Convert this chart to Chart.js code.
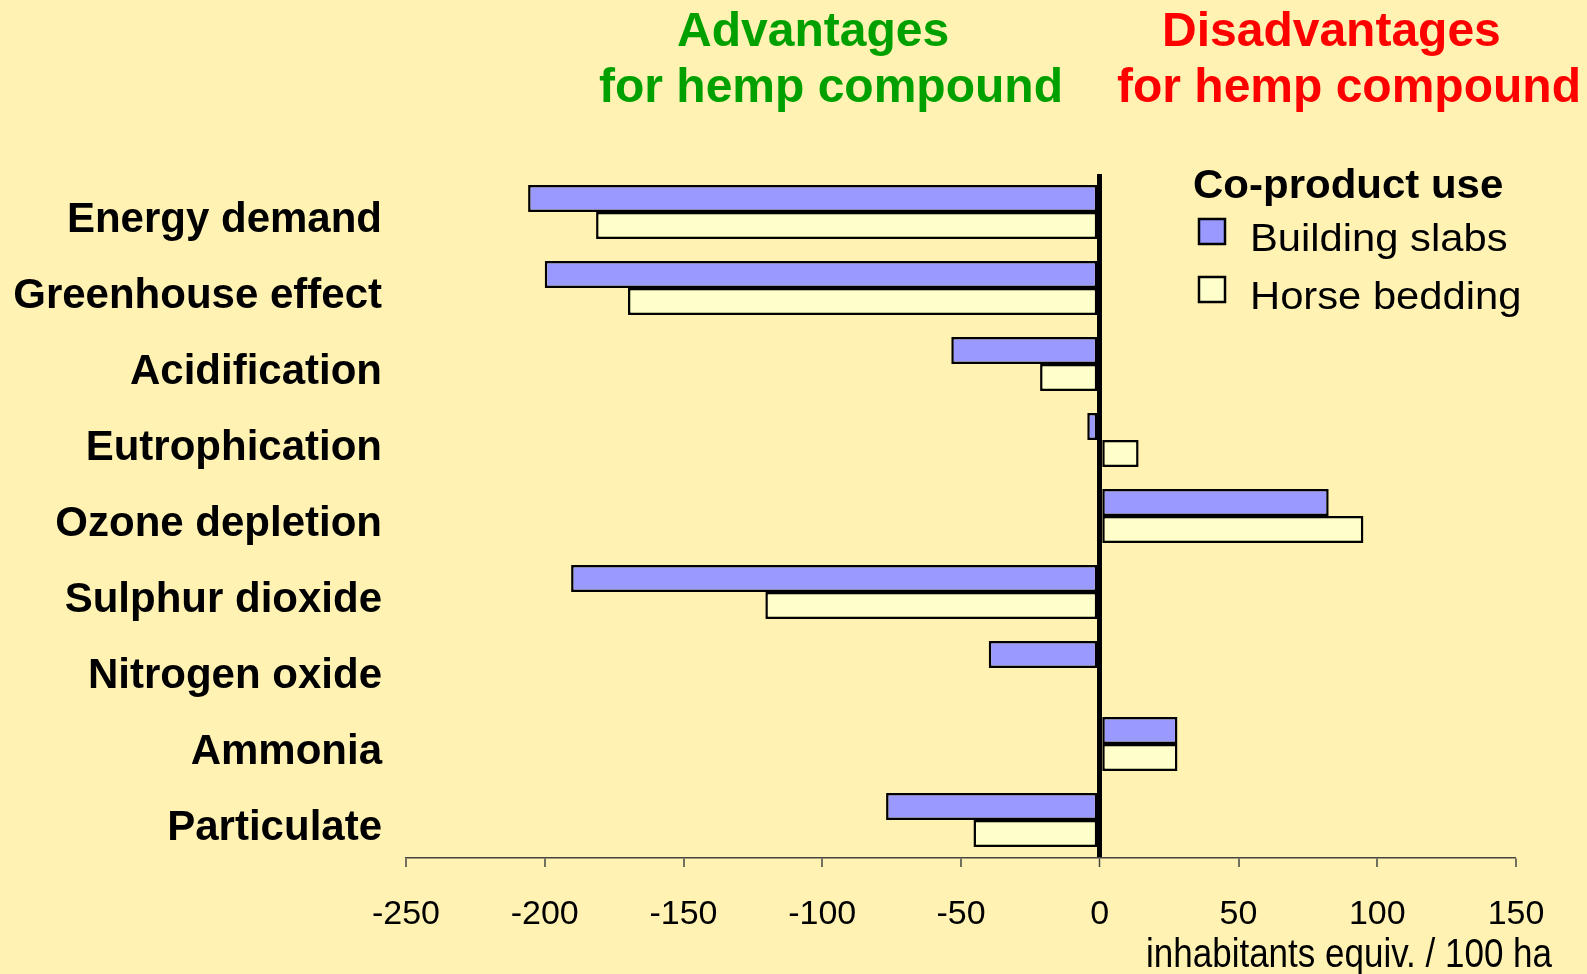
<!DOCTYPE html>
<html>
<head>
<meta charset="utf-8">
<script src="https://cdn.jsdelivr.net/npm/chart.js@4/dist/chart.umd.min.js"></script>
<style>
  html, body { margin: 0; padding: 0; background: #fff2b2; }
  canvas { display: block; }
</style>
</head>
<body>
<canvas id="grafico" width="1587" height="974"></canvas>
<script>
// categorías y valores
const categorias = ["Energy demand", "Greenhouse effect", "Acidification", "Eutrophication",
  "Ozone depletion", "Sulphur dioxide", "Nitrogen oxide", "Ammonia", "Particulate"];
const buildingSlabs = [-206, -200, -53.5, -4.5, 82.5, -190.5, -40, 28, -77];
const horseBedding = [-181.5, -170, -21.5, 14, 95, -120.5, null, 28, -45.5];
const ejeMin = -250;
const ejeMax = 150;
const ejePaso = 50;
const tituloEje = "inhabitants equiv. / 100 ha";
const tituloLeyenda = "Co-product use";

const FUENTE = "'Liberation Sans', Arial, sans-serif";

// texto con escala horizontal opcional
function texto(ctx, s, x, y, size, bold, color, sx) {
  ctx.save();
  ctx.font = (bold ? "bold " : "") + size + "px " + FUENTE;
  ctx.fillStyle = color;
  ctx.textAlign = "left";
  ctx.textBaseline = "alphabetic";
  ctx.translate(x, y);
  ctx.scale(sx || 1, 1);
  ctx.fillText(s, 0, 0);
  ctx.restore();
}

const fondo = {
  id: "fondo",
  beforeDraw(chart) {
    const ctx = chart.ctx;
    ctx.save();
    ctx.fillStyle = "#fff2b2";
    ctx.fillRect(0, 0, chart.width, chart.height);
    ctx.restore();
  }
};

const extras = {
  id: "extras",
  afterDraw(chart) {
    const ctx = chart.ctx;
    // títulos
    texto(ctx, "Advantages", 677, 46, 48, true, "#00a000");
    texto(ctx, "for hemp compound", 599, 102, 48, true, "#00a000");
    texto(ctx, "Disadvantages", 1162, 46, 48, true, "#ff0000");
    texto(ctx, "for hemp compound", 1117, 102, 48, true, "#ff0000");

    // leyenda
    texto(ctx, tituloLeyenda, 1193, 198, 40, true, "#000", 1.05);
    chart.data.datasets.forEach((ds, i) => {
      const y = 219 + i * 58;
      ctx.save();
      ctx.fillStyle = ds.backgroundColor;
      ctx.strokeStyle = "#000";
      ctx.lineWidth = 2.5;
      ctx.fillRect(1199, y, 26, 25);
      ctx.strokeRect(1199, y, 26, 25);
      ctx.restore();
      texto(ctx, ds.label, 1250, y + 32, 39, false, "#000", 1.07);
    });

    // título del eje x
    texto(ctx, tituloEje, 1146, 967, 40, false, "#000", 0.875);
  }
};

new Chart(document.getElementById("grafico"), {
  type: "bar",
  data: {
    labels: categorias.map(c => ["", c]),
    datasets: [
      {
        label: "Building slabs",
        data: buildingSlabs,
        backgroundColor: "#9999ff",
        borderColor: "#000",
        borderWidth: 2.5,
        borderSkipped: false
      },
      {
        label: "Horse bedding",
        data: horseBedding,
        backgroundColor: "#ffffcc",
        borderColor: "#000",
        borderWidth: 2.5,
        borderSkipped: false
      }
    ]
  },
  options: {
    indexAxis: "y",
    responsive: false,
    devicePixelRatio: 1,
    animation: false,
    categoryPercentage: 0.71,
    barPercentage: 1,
    layout: { padding: { top: 174, right: 71, bottom: 0, left: 0 } },
    plugins: {
      legend: { display: false },
      title: { display: false },
      tooltip: { enabled: false }
    },
    scales: {
      x: {
        min: ejeMin,
        max: ejeMax,
        afterFit(s) { s.height = 116; },
        ticks: {
          stepSize: ejePaso,
          color: "#000",
          padding: 27,
          font: { family: FUENTE, size: 34 }
        },
        grid: {
          drawOnChartArea: true,
          color: c => (c.tick && c.tick.value === 0) ? "#000" : "rgba(0,0,0,0)",
          lineWidth: c => (c.tick && c.tick.value === 0) ? 5 : 0,
          tickColor: "#444",
          tickWidth: 1.5,
          tickLength: 9
        },
        border: { display: true, color: "#444", width: 1.5 }
      },
      y: {
        afterFit(s) { s.width = 406; },
        ticks: {
          color: "#000",
          padding: 16,
          font: { family: FUENTE, size: 42, weight: "bold", lineHeight: "16px" }
        },
        grid: { display: false },
        border: { display: false }
      }
    }
  },
  plugins: [fondo, extras]
});
</script>
</body>
</html>
